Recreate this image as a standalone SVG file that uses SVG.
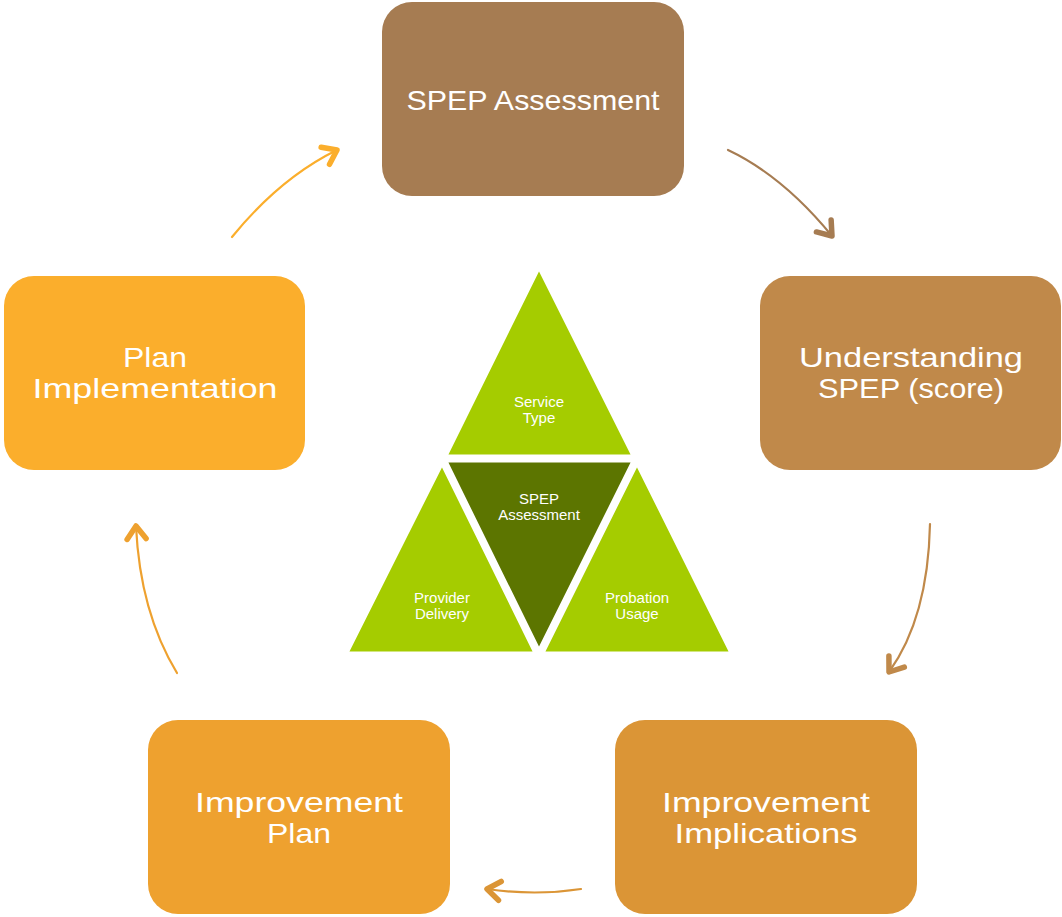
<svg xmlns="http://www.w3.org/2000/svg" width="1062" height="917" viewBox="0 0 1062 917">
  <style>
    .box-label { font-family: "Liberation Sans", Arial, sans-serif; font-size: 28px; fill: #ffffff; text-anchor: middle; }
    .tri-label { font-family: "Liberation Sans", Arial, sans-serif; font-size: 15px; fill: #ffffff; text-anchor: middle; }
    .link { fill: none; stroke-width: 2.2; stroke-linecap: round; }
    .tri { stroke: #ffffff; stroke-width: 3; stroke-linejoin: miter; }
    .chevron { fill: none; stroke-width: 5.5; stroke-linecap: round; stroke-linejoin: round; }
  </style>
  <defs>
    <marker id="head-a" viewBox="-18 -13 22 26" markerWidth="22" markerHeight="26" refX="0" refY="0" orient="auto" markerUnits="userSpaceOnUse">
      <path class="chevron" d="M-13,-9.5 L0,0 L-13,9.5" stroke="#A67C52"/>
    </marker>
    <marker id="head-b" viewBox="-18 -13 22 26" markerWidth="22" markerHeight="26" refX="0" refY="0" orient="auto" markerUnits="userSpaceOnUse">
      <path class="chevron" d="M-13,-9.5 L0,0 L-13,9.5" stroke="#C0894A"/>
    </marker>
    <marker id="head-c" viewBox="-18 -13 22 26" markerWidth="22" markerHeight="26" refX="0" refY="0" orient="auto" markerUnits="userSpaceOnUse">
      <path class="chevron" d="M-13,-9.5 L0,0 L-13,9.5" stroke="#DB9536"/>
    </marker>
    <marker id="head-d" viewBox="-18 -13 22 26" markerWidth="22" markerHeight="26" refX="0" refY="0" orient="auto" markerUnits="userSpaceOnUse">
      <path class="chevron" d="M-13,-9.5 L0,0 L-13,9.5" stroke="#EEA12F"/>
    </marker>
    <marker id="head-e" viewBox="-18 -13 22 26" markerWidth="22" markerHeight="26" refX="0" refY="0" orient="auto" markerUnits="userSpaceOnUse">
      <path class="chevron" d="M-13,-9.5 L0,0 L-13,9.5" stroke="#FBAE2C"/>
    </marker>
  </defs>

  <rect width="1062" height="917" fill="#ffffff"/>

  <!-- cycle steps -->
  <g id="spep-assessment">
    <rect x="382" y="2" width="302" height="194" rx="30" fill="#A67C52"/>
    <text class="box-label" x="533" y="110" textLength="253" lengthAdjust="spacingAndGlyphs">SPEP Assessment</text>
  </g>
  <g id="understanding-spep">
    <rect x="760" y="276" width="301" height="194" rx="30" fill="#C0894A"/>
    <text class="box-label" x="911" y="367" textLength="224" lengthAdjust="spacingAndGlyphs">Understanding</text>
    <text class="box-label" x="911" y="398" textLength="186" lengthAdjust="spacingAndGlyphs">SPEP (score)</text>
  </g>
  <g id="improvement-implications">
    <rect x="615" y="720" width="302" height="194" rx="30" fill="#DB9536"/>
    <text class="box-label" x="766" y="812" textLength="208" lengthAdjust="spacingAndGlyphs">Improvement</text>
    <text class="box-label" x="766" y="843" textLength="183" lengthAdjust="spacingAndGlyphs">Implications</text>
  </g>
  <g id="improvement-plan">
    <rect x="148" y="720" width="302" height="194" rx="30" fill="#EEA12F"/>
    <text class="box-label" x="299" y="812" textLength="208" lengthAdjust="spacingAndGlyphs">Improvement</text>
    <text class="box-label" x="299" y="843" textLength="64" lengthAdjust="spacingAndGlyphs">Plan</text>
  </g>
  <g id="plan-implementation">
    <rect x="4" y="276" width="301" height="194" rx="30" fill="#FBAE2C"/>
    <text class="box-label" x="155" y="367" textLength="64" lengthAdjust="spacingAndGlyphs">Plan</text>
    <text class="box-label" x="155" y="398" textLength="245" lengthAdjust="spacingAndGlyphs">Implementation</text>
  </g>

  <!-- central triangle of components -->
  <g id="service-type">
    <polygon class="tri" points="539,268 633,456 446,456" fill="#A5CC00"/>
    <text class="tri-label" x="539" y="407">Service</text>
    <text class="tri-label" x="539" y="423">Type</text>
  </g>
  <g id="provider-delivery">
    <polygon class="tri" points="442,464 535,653 347,653" fill="#A5CC00"/>
    <text class="tri-label" x="442" y="603">Provider</text>
    <text class="tri-label" x="442" y="619">Delivery</text>
  </g>
  <g id="probation-usage">
    <polygon class="tri" points="637,464 731,653 543,653" fill="#A5CC00"/>
    <text class="tri-label" x="637" y="603">Probation</text>
    <text class="tri-label" x="637" y="619">Usage</text>
  </g>
  <g id="spep-core">
    <polygon class="tri" points="446,461 633,461 539,650" fill="#5C7500"/>
    <text class="tri-label" x="539" y="504">SPEP</text>
    <text class="tri-label" x="539" y="520">Assessment</text>
  </g>

  <!-- connectors -->
  <g id="connectors">
    <path class="link" d="M728,150 Q783,176 832,236" stroke="#A67C52" marker-end="url(#head-a)"/>
    <path class="link" d="M930,524 Q928,618 889,672" stroke="#C0894A" marker-end="url(#head-b)"/>
    <path class="link" d="M581,889 Q535,896 487,889" stroke="#DB9536" marker-end="url(#head-c)"/>
    <path class="link" d="M177,673 Q140,612 136,526" stroke="#EEA12F" marker-end="url(#head-d)"/>
    <path class="link" d="M232,237 Q280,178 337,150" stroke="#FBAE2C" marker-end="url(#head-e)"/>
  </g>
</svg>
